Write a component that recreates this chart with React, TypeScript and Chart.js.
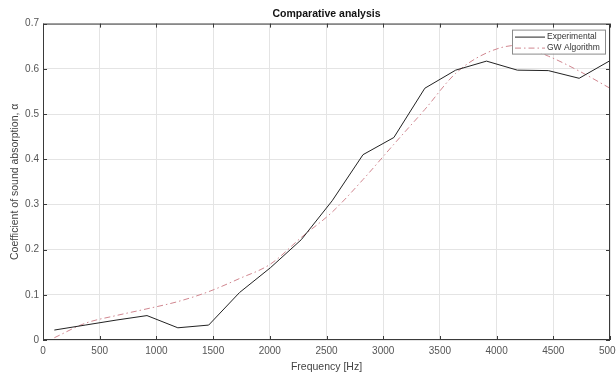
import React, { useEffect, useRef } from "react";
import { Chart, registerables } from "chart.js";

Chart.register(...registerables);

const frequencies = [100, 372, 644, 917, 1189, 1461, 1733, 2006, 2278, 2550, 2822, 3094, 3367, 3639, 3911, 4183, 4456, 4728, 5000];
const experimental = [0.022, 0.033, 0.044, 0.054, 0.027, 0.033, 0.105, 0.16, 0.222, 0.308, 0.41, 0.448, 0.557, 0.597, 0.617, 0.597, 0.596, 0.579, 0.618];
const gwAlgorithm = [0.005, 0.037, 0.054, 0.069, 0.085, 0.107, 0.136, 0.168, 0.227, 0.283, 0.355, 0.433, 0.51, 0.59, 0.635, 0.652, 0.628, 0.595, 0.557];
const seriesNames = ["Experimental", "GW Algorithm"];
const titleText = "Comparative analysis";
const xTitle = "Frequency [Hz]";
const yTitle = "Coefficient of sound absorption, \u03b1";

const FONT = "'Liberation Sans', Arial, Helvetica, sans-serif";
const EXP_COLOR = "#222222";
const GW_COLOR = "#d0868f";
const GW_DASH = [6, 3, 1.5, 3];

const framePlugin = {
  id: "frame",
  afterDraw(chart: any) {
    const { ctx, chartArea } = chart;
    const { left, right, top, bottom } = chartArea;
    ctx.save();
    ctx.strokeStyle = "#3a3a3a";
    ctx.lineWidth = 1;
    ctx.strokeRect(left + 0.5, top + 0.5, right - left - 1, bottom - top - 1);
    const xs = chart.scales.x;
    const ys = chart.scales.y;
    ctx.beginPath();
    xs.ticks.forEach((t: any) => {
      const px = Math.round(xs.getPixelForValue(t.value)) + 0.5;
      ctx.moveTo(px, bottom);
      ctx.lineTo(px, bottom - 4);
      ctx.moveTo(px, top);
      ctx.lineTo(px, top + 4);
    });
    ys.ticks.forEach((t: any) => {
      const py = Math.round(ys.getPixelForValue(t.value)) + 0.5;
      ctx.moveTo(left, py);
      ctx.lineTo(left + 4, py);
      ctx.moveTo(right, py);
      ctx.lineTo(right - 4, py);
    });
    ctx.stroke();

    // legend
    const lw = 93;
    const lh = 24;
    const lx = right - 5 - lw;
    const ly = top + 6;
    ctx.fillStyle = "#ffffff";
    ctx.fillRect(lx, ly, lw, lh);
    ctx.strokeStyle = "#8a8a8a";
    ctx.strokeRect(lx + 0.5, ly + 0.5, lw, lh);
    const rows = [
      { name: seriesNames[0], color: EXP_COLOR, dash: [] as number[] },
      { name: seriesNames[1], color: GW_COLOR, dash: GW_DASH },
    ];
    ctx.font = `8.5px ${FONT}`;
    ctx.textBaseline = "middle";
    ctx.textAlign = "left";
    rows.forEach((r, i) => {
      const y = ly + 7 + i * 11 + 0.5;
      ctx.beginPath();
      ctx.setLineDash(r.dash);
      ctx.strokeStyle = r.color;
      ctx.moveTo(lx + 3, y);
      ctx.lineTo(lx + 33, y);
      ctx.stroke();
      ctx.setLineDash([]);
      ctx.fillStyle = "#333333";
      ctx.fillText(r.name, lx + 35, y);
    });
    ctx.restore();
  },
};

export default function App() {
  const canvasRef = useRef<HTMLCanvasElement | null>(null);

  useEffect(() => {
    const canvas = canvasRef.current;
    if (!canvas) return;
    const chart = new Chart(canvas, {
      type: "line",
      data: {
        datasets: [
          {
            label: seriesNames[0],
            data: frequencies.map((f, i) => ({ x: f, y: experimental[i] })),
            borderColor: EXP_COLOR,
            borderWidth: 1,
            pointRadius: 0,
            tension: 0,
            fill: false,
          },
          {
            label: seriesNames[1],
            data: frequencies.map((f, i) => ({ x: f, y: gwAlgorithm[i] })),
            borderColor: GW_COLOR,
            borderWidth: 1,
            borderDash: GW_DASH,
            pointRadius: 0,
            cubicInterpolationMode: "monotone",
            fill: false,
          },
        ],
      },
      options: {
        responsive: false,
        animation: false,
        layout: { padding: { left: 0, right: 30, top: 0, bottom: 0 } },
        plugins: {
          legend: { display: false },
          tooltip: { enabled: false },
          title: {
            display: true,
            text: titleText,
            fullSize: false,
            color: "#111111",
            font: { family: FONT, size: 10.5, weight: "bold" },
            padding: { top: 8, bottom: 3 },
          },
        },
        scales: {
          x: {
            type: "linear",
            min: 0,
            max: 5000,
            afterFit: (s: any) => {
              s.height = 35;
            },
            ticks: {
              stepSize: 500,
              padding: 5,
              maxRotation: 0,
              color: "#555555",
              font: { family: FONT, size: 10 },
              callback: (v: any) => String(v),
            },
            grid: { color: "#e4e4e4", drawTicks: false },
            border: { display: false },
            title: {
              display: true,
              text: xTitle,
              color: "#444444",
              font: { family: FONT, size: 10.5 },
              padding: { top: 0, bottom: 2 },
            },
          },
          y: {
            type: "linear",
            min: 0,
            max: 0.7,
            afterFit: (s: any) => {
              s.width = 43;
            },
            ticks: {
              stepSize: 0.1,
              padding: 4,
              color: "#555555",
              font: { family: FONT, size: 10 },
              callback: (v: any) => String(Number(Number(v).toFixed(1))),
            },
            grid: { color: "#e4e4e4", drawTicks: false },
            border: { display: false },
            title: {
              display: true,
              text: yTitle,
              color: "#444444",
              font: { family: FONT, size: 10.5 },
              padding: { top: 9, bottom: 9 },
            },
          },
        },
      },
      plugins: [framePlugin],
    } as any);
    return () => chart.destroy();
  }, []);

  return (
    <div
      style={{
        position: "fixed",
        left: 0,
        top: 0,
        width: 616,
        height: 375,
        overflow: "hidden",
        background: "#ffffff",
      }}
    >
      <canvas ref={canvasRef} width={640} height={375} style={{ width: 640, height: 375, display: "block" }} />
    </div>
  );
}
